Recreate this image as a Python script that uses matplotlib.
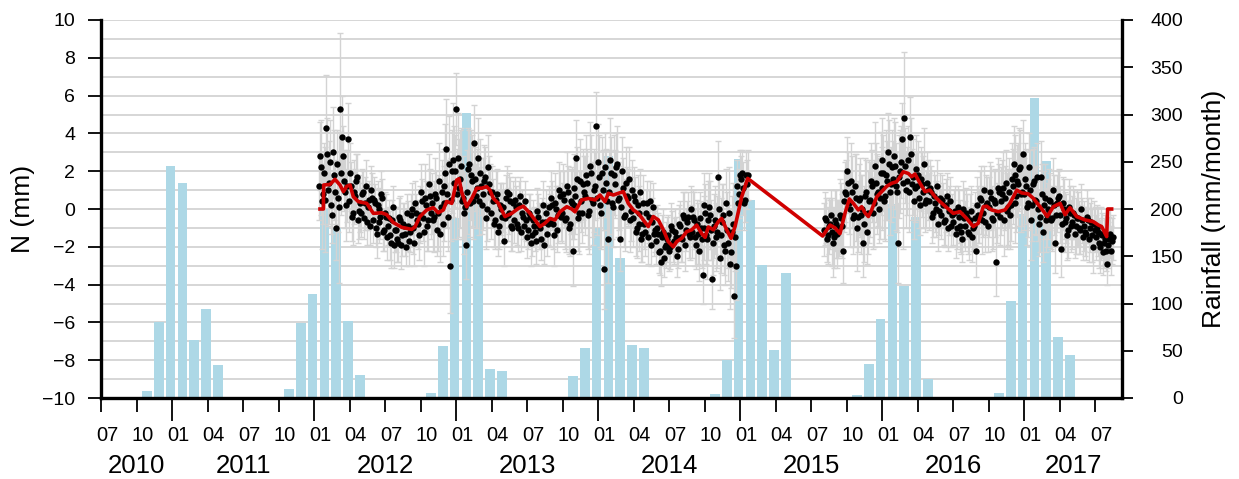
import numpy as np
import matplotlib
matplotlib.use('Agg')
import matplotlib.pyplot as plt
from matplotlib.ticker import MultipleLocator, FixedLocator

plt.rcParams['font.family'] = ['Liberation Sans', 'DejaVu Sans']

# %% data
# monthly rainfall (mm/month), first bar = Jul 2010
rain_start = 2010.5
rainfall = [
    0, 0, 1, 7, 80, 246,                                   # 2010 Jul-Dec
    228, 61, 94, 35, 1, 1, 0, 0, 1, 10, 79, 110,           # 2011
    200, 180, 81, 24, 1, 1, 0, 0, 1, 5, 55, 190,           # 2012
    302, 205, 31, 29, 1, 1, 0, 0, 1, 23, 53, 180,          # 2013
    256, 148, 56, 53, 1, 1, 0, 0, 1, 4, 40, 253,           # 2014
    210, 141, 51, 132, 1, 1, 0, 0, 1, 3, 36, 84,           # 2015
    205, 118, 192, 20, 1, 1, 0, 0, 1, 5, 103, 195,         # 2016
    317, 251, 65, 45, 0, 0, 0,                             # 2017 Jan-Jul
]

# GNSS north component, first campaign (2012-01 .. 2015-01)
seg1_range = (2012.045, 2015.055)
seg1_n = [
    2.8, 0.4, 1.9,                          # 2012-01
    4.3, 1.0, 2.5, -0.3, 1.8, -1.0,         # 02
    0.6, 5.3, 3.8, 1.5, 0.2, 3.7,           # 03
    1.9, -0.4, 0.9, 1.5, -0.6, 0.3,         # 04
    0.8, -0.5, 1.2, 0.1, -0.9, 0.6,         # 05
    0.5, -1.0, 0.2, -0.7, 0.8, -1.2,        # 06
    -0.2, -1.5, -0.5, -1.8, 0.1, -1.1,      # 07
    -1.6, -0.4, -1.9, -0.8, -1.3, -0.2,     # 08
    -1.7, -0.3, -1.0, 0.3, -0.6, -1.4,      # 09
    0.9, -0.5, 0.6, -0.9, 1.3, -0.2,        # 10
    -0.6, 0.8, -1.1, 1.5, 0.1, -0.8,        # 11
    1.2, 3.2, -0.4, -3.0, 2.0, 1.4,         # 12
    5.3, 2.7, 1.6, 0.4, -0.2, -1.9,         # 2013-01
    2.1, 0.3, 1.5, 3.5, 0.7, 2.7,           # 02
    1.9, 0.2, 1.5, -0.5, 2.2, 0.9,          # 03
    0.9, -0.8, 0.5, -1.2, 0.2, -0.4,        # 04
    -1.7, 0.6, -0.3, 0.8, -0.9, 0.3,        # 05
    0.5, -0.8, 0.2, -1.2, -0.4, 0.4,        # 06
    -1.5, -0.2, -1.8, -0.6, -1.2, -0.1,     # 07
    -0.9, -1.6, 0.2, -0.7, -1.3, 0.1,       # 08
    0.6, -0.8, 0.3, -1.1, 1.0, -0.4,        # 09
    0.8, -0.6, 1.2, -1.0, 0.4, -2.2,        # 10
    1.1, 2.7, -0.5, 1.5, -0.2, 0.9,         # 11
    1.8, -0.3, 2.3, 0.5, 1.0, 4.4,          # 12
    2.5, 0.2, 1.9, -3.2, 1.4, -1.6,         # 2014-01
    2.6, 0.3, 1.8, 2.2, 0.5, -1.6,          # 02
    2.0, -0.4, 1.4, 0.6, -0.6, 1.0,         # 03
    0.7, -1.2, 0.2, -0.8, -1.6, 0.3,        # 04
    -1.2, 0.3, -0.4, -1.9, 0.1, -1.1,       # 05
    -1.0, -2.3, -2.8, -1.2, -2.0, -1.6,     # 06
    -2.2, -0.9, -1.8, -1.2, -2.5, -0.8,     # 07
    -1.5, -0.3, -1.9, -0.7, -1.3, 0.0,      # 08
    -0.4, -1.5, -0.8, -2.2, -1.0, -3.5,     # 09
    0.2, -1.4, -0.6, -0.3, -3.7, -0.9,      # 10
    -1.5, 1.7, -2.6, -0.7, -1.9, 0.3,       # 11
    -1.8, -2.9, -1.2, -4.6, -3.0, 0.3,      # 12
    1.8, 1.9, 0.3, 1.8, 1.8,                # 2015-01
]
# in-between days of the same campaign
seg1_n_b = [
    1.2, 2.2, 0.8,                          # 2012-01
    0.5, 2.9, 1.4, 0.2, 3.0, 0.9,           # 02
    2.4, 0.1, 1.9, 2.8, 0.9, 1.2,           # 03
    0.4, 1.2, -0.2, 0.7, 1.7, -0.1,         # 04
    -0.2, 0.9, 0.3, -0.7, 0.5, 1.0,         # 05
    -0.6, 0.3, -1.3, 0.0, -0.4, 0.6,        # 06
    -1.1, -0.4, -0.9, -1.4, -0.6, -1.9,     # 07
    -1.1, -1.8, -0.6, -1.4, -0.9, -2.0,     # 08
    -0.9, -1.2, 0.0, -1.8, -0.2, -0.8,      # 09
    -0.3, 0.4, -1.2, 0.2, -0.6, 0.7,        # 10
    0.3, -0.4, 0.6, -0.2, -1.3, 0.9,        # 11
    0.3, 1.9, 0.8, 2.4, 0.5, 2.6,           # 12
    2.0, 0.8, 1.1, 2.3, 0.6, 0.1,           # 2013-01
    0.9, 2.4, 1.8, 0.4, 1.6, 1.1,           # 02
    0.4, 1.2, 0.8, 1.7, 0.0, 1.3,           # 03
    -0.2, 0.4, -0.6, 0.8, -0.9, 0.0,        # 04
    0.1, -0.5, 0.9, -0.2, 0.4, -1.0,        # 05
    -0.6, 0.1, -1.0, 0.7, -0.2, -0.9,       # 06
    -0.6, -1.1, -0.4, -1.4, -0.9, -1.7,     # 07
    -0.4, -1.0, -0.7, -1.9, -0.2, -0.8,     # 08
    -0.6, 0.2, -1.4, 0.0, -0.3, 0.7,        # 09
    -0.2, 0.5, -0.5, 0.9, -0.8, 0.3,        # 10
    0.2, 0.7, 1.6, -0.2, 0.4, 1.3,          # 11
    0.7, 1.4, -0.1, 1.9, 0.3, 1.2,          # 12
    0.6, 1.7, -0.2, 1.0, 2.2, 0.4,          # 2014-01
    0.9, 1.9, 0.1, 1.3, 2.4, 0.6,           # 02
    0.1, 1.1, -0.3, 0.7, 1.6, -0.1,         # 03
    -0.5, 0.4, -1.0, -0.2, 0.9, -1.3,       # 04
    -0.8, -0.2, -1.5, 0.4, -0.7, -1.3,      # 05
    -1.7, -1.3, -2.2, -1.5, -2.6, -1.9,     # 06
    -1.4, -2.0, -1.1, -1.7, -1.5, -2.1,     # 07
    -0.9, -1.6, -0.5, -1.1, -0.4, -1.5,     # 08
    -1.2, -0.6, -1.9, -1.3, -0.5, -1.6,     # 09
    -1.0, -0.2, -1.6, 0.1, -1.1, -1.8,      # 10
    -0.6, -1.2, 0.0, -1.4, -0.3, -2.2,      # 11
    -1.1, -0.2, -2.3, -0.8, -1.5, 1.2,      # 12
    0.8, 1.6, 1.1, 0.5, 1.3,                # 2015-01
]
seg1_err = [
    1.8, 2.5, 1.6,
    2.8, 1.9, 2.2, 1.5, 2.4, 1.7,
    1.8, 4.0, 2.2, 1.6, 1.9, 1.9,
    1.6, 1.3, 1.7, 1.4, 1.2, 1.5,
    1.3, 1.1, 1.4, 1.2, 1.0, 1.3,
    1.2, 1.0, 1.3, 1.1, 1.2, 1.0,
    1.1, 1.2, 1.0, 1.3, 1.1, 1.2,
    1.2, 1.0, 1.3, 1.1, 1.2, 1.0,
    1.3, 1.1, 1.4, 1.2, 1.0, 1.3,
    1.5, 1.2, 1.8, 1.3, 1.6, 1.4,
    1.6, 1.9, 1.4, 2.0, 1.5, 1.7,
    2.0, 2.6, 1.8, 2.5, 2.2, 3.0,
    1.9, 2.4, 2.6, 2.0, 2.2, 1.8,
    2.2, 1.8, 2.4, 2.0, 1.7, 2.1,
    1.8, 1.5, 1.9, 1.6, 1.7, 1.5,
    1.4, 1.2, 1.5, 1.3, 1.2, 1.4,
    1.3, 1.2, 1.4, 1.1, 1.3, 1.2,
    1.2, 1.1, 1.3, 1.0, 1.2, 1.1,
    1.1, 1.0, 1.2, 1.1, 1.0, 1.2,
    1.2, 1.1, 1.3, 1.0, 1.2, 1.1,
    1.4, 1.3, 1.6, 1.2, 1.5, 1.3,
    1.6, 1.5, 1.8, 1.4, 1.7, 1.9,
    1.8, 2.0, 1.7, 2.2, 1.6, 1.9,
    2.1, 1.8, 2.3, 2.0, 2.2, 1.8,
    2.0, 2.2, 1.9, 2.1, 1.8, 2.3,
    2.2, 1.9, 2.1, 1.8, 2.0, 1.7,
    1.8, 1.6, 1.9, 1.5, 1.7, 1.6,
    1.5, 1.3, 1.6, 1.4, 1.2, 1.5,
    1.3, 1.2, 1.4, 1.1, 1.3, 1.2,
    1.2, 1.1, 1.3, 1.2, 1.0, 1.2,
    1.1, 1.2, 1.0, 1.2, 1.1, 1.0,
    1.3, 1.2, 1.4, 1.1, 1.3, 1.2,
    1.4, 1.5, 1.3, 1.6, 1.4, 1.5,
    1.7, 1.5, 2.1, 1.8, 1.6, 1.7,
    1.8, 1.9, 1.7, 2.0, 1.6, 1.8,
    2.0, 2.4, 1.9, 2.2, 1.8, 1.4,
    1.3, 1.2, 1.4, 1.2, 1.3,
]

# second campaign (2015-08 .. 2017-08)
seg2_range = (2015.598, 2017.625)
seg2_n = [
    -0.5, -1.6, -0.9, -0.3, -1.8,           # 2015-08
    -0.6, -1.3, -1.0, -0.5, -2.2, 0.9,      # 09
    2.0, 0.3, 1.5, -0.5, 1.2, -1.0,         # 10
    0.5, -0.3, -1.8, 0.7, -1.2, 0.4,        # 11
    1.5, -0.2, 2.3, 0.8, 0.0, 1.9,          # 12
    2.6, 0.4, 1.8, 3.0, 0.9, 2.2,           # 2016-01
    2.8, 1.2, -1.8, 2.0, 3.7, 4.8,          # 02
    1.0, 2.6, 3.8, 1.3, 0.4, 2.1,           # 03
    1.8, 0.2, 1.3, 2.4, 0.5, 1.0,           # 04
    1.1, -0.4, 0.7, 0.0, -0.8, 0.6,         # 05
    0.5, -0.7, 0.2, -1.0, 0.4, -0.3,        # 06
    -0.2, -1.3, 0.1, -0.9, -1.6, -0.5,      # 07
    -0.2, -1.2, -0.6, -1.5, -0.9, -2.2,     # 08
    -0.3, 0.6, -0.6, 1.0, 0.2, -0.9,        # 09
    0.9, -0.5, 0.5, -2.8, 1.1, -0.4,        # 10
    0.8, -0.6, 1.4, 0.1, -0.3, 1.6,         # 11
    2.4, 0.3, 1.5, 2.1, 0.8, 2.9,           # 12
    1.6, 0.1, 2.2, -0.6, 1.3, 0.5,          # 2017-01
    1.7, -0.8, 1.7, -1.2, 0.6, -0.3,        # 02
    0.5, -0.6, 1.0, -1.8, 0.3, 0.7,         # 03
    -2.1, 0.3, -0.7, -1.4, 0.1, -0.9,       # 04
    -0.2, -1.3, -0.5, -1.0, 0.0, -1.5,      # 05
    -1.2, -0.4, -1.6, -0.7, -2.0, -1.1,     # 06
    -1.0, -1.8, -1.3, -2.3, -1.6, -2.9,     # 07
    -1.6, -2.2, -1.5,                       # 08
]
seg2_n_b = [
    -1.1, -0.6, -1.4, -0.8, -1.2,           # 2015-08
    -1.5, -0.8, -1.1, -0.3, -0.9, 0.4,      # 09
    0.8, 1.4, 0.0, 0.9, -0.3, 0.6,          # 10
    -0.4, 0.6, 0.0, -0.8, 0.9, -0.2,        # 11
    0.5, 1.2, 0.3, 1.4, 0.9, 0.6,           # 12
    1.1, 1.9, 0.7, 1.5, 2.4, 1.3,           # 2016-01
    1.6, 2.3, 0.9, 1.7, 2.5, 1.4,           # 02
    2.3, 1.5, 0.9, 2.9, 1.7, 1.1,           # 03
    1.2, 0.6, 1.6, 0.9, 0.3, 1.4,           # 04
    0.4, 0.9, -0.2, 0.3, 1.2, -0.1,         # 05
    -0.3, 0.2, -0.6, 0.7, -0.1, -0.9,       # 06
    -0.7, -0.1, -1.0, -0.4, -1.2, 0.0,      # 07
    -0.9, -0.4, -1.3, -0.1, -1.0, -0.5,     # 08
    0.2, -0.4, 0.5, -0.2, -0.7, 0.3,        # 09
    0.1, 0.6, -0.6, 0.3, -0.2, 0.9,         # 10
    0.4, 1.1, 0.6, -0.1, 0.9, 0.2,          # 11
    1.2, 1.8, 0.7, 1.3, 2.2, 0.9,           # 12
    0.8, 1.2, 0.3, 1.0, 0.2, 1.5,           # 2017-01
    0.4, 0.0, -0.4, 0.8, 0.2, -0.6,         # 02
    0.0, 0.4, -0.5, 0.2, -0.3, 0.6,         # 03
    -0.3, -0.8, 0.0, -0.5, -1.1, -0.2,      # 04
    -0.7, -0.3, -0.9, -0.5, -1.1, -0.6,     # 05
    -0.9, -1.3, -0.6, -1.0, -1.4, -0.8,     # 06
    -1.5, -1.2, -2.0, -1.4, -1.8, -2.2,     # 07
    -1.9, -1.3, -1.7,                       # 08
]
seg2_err = [
    1.4, 1.2, 1.5, 1.3, 1.8,
    1.6, 1.8, 1.5, 1.9, 1.7, 1.6,
    1.8, 1.6, 2.0, 1.9, 1.7, 2.3,
    1.9, 2.1, 1.8, 2.0, 1.7, 2.2,
    2.0, 1.9, 2.3, 2.1, 1.8, 2.2,
    2.2, 2.0, 2.4, 2.1, 2.3, 2.0,
    2.0, 2.3, 2.1, 2.2, 1.9, 3.5,
    2.0, 1.8, 2.1, 1.9, 2.0, 1.8,
    1.8, 1.6, 1.7, 1.9, 1.5, 1.6,
    1.5, 1.4, 1.3, 1.5, 1.4, 1.3,
    1.3, 1.2, 1.4, 1.2, 1.3, 1.1,
    1.2, 1.3, 1.1, 1.4, 1.2, 1.5,
    1.3, 1.2, 1.4, 1.3, 1.2, 1.4,
    1.5, 1.4, 1.8, 1.3, 1.6, 1.4,
    1.6, 1.7, 1.5, 1.8, 1.6, 1.5,
    1.8, 1.9, 1.7, 2.0, 1.8, 1.9,
    2.0, 2.1, 1.9, 2.2, 2.0, 1.8,
    1.9, 2.0, 1.8, 2.1, 1.9, 1.8,
    1.8, 1.7, 1.9, 1.6, 1.8, 1.7,
    1.6, 1.5, 1.7, 1.6, 1.5, 1.4,
    1.5, 1.4, 1.6, 1.3, 1.5, 1.4,
    1.4, 1.3, 1.5, 1.4, 1.3, 1.2,
    1.3, 1.4, 1.2, 1.3, 1.4, 1.2,
    1.2, 1.3, 1.4, 1.2, 1.3, 1.1,
    1.2, 1.3, 1.2,
]

# smoothed north component (red curve), decimal years
smooth_t = [
    2012.042, 2012.066, 2012.068, 2012.113, 2012.148, 2012.183, 2012.207, 2012.230,
    2012.254, 2012.277, 2012.312, 2012.371, 2012.418, 2012.477, 2012.512, 2012.559,
    2012.618, 2012.688, 2012.711, 2012.746, 2012.794, 2012.840, 2012.875, 2012.911,
    2012.934, 2012.970, 2013.005, 2013.021, 2013.040, 2013.075, 2013.111, 2013.146,
    2013.181, 2013.216, 2013.239, 2013.263, 2013.298, 2013.345, 2013.392, 2013.439,
    2013.474, 2013.521, 2013.556, 2013.592, 2013.627, 2013.662, 2013.697, 2013.732,
    2013.780, 2013.815, 2013.838, 2013.885, 2013.932, 2013.979, 2014.014, 2014.049,
    2014.073, 2014.108, 2014.143, 2014.178, 2014.213, 2014.249, 2014.284, 2014.319,
    2014.354, 2014.389, 2014.425, 2014.460, 2014.495, 2014.530, 2014.554, 2014.589,
    2014.624, 2014.660, 2014.695, 2014.730, 2014.754, 2014.777, 2014.812, 2014.847,
    2014.871, 2014.906, 2014.937, 2014.965, 2015.012, 2015.054,
    2015.582, 2015.634, 2015.669, 2015.704, 2015.739, 2015.770, 2015.798, 2015.833,
    2015.857, 2015.880, 2015.904, 2015.927, 2015.963, 2015.998, 2016.033, 2016.068,
    2016.104, 2016.127, 2016.150, 2016.185, 2016.209, 2016.232, 2016.268, 2016.303,
    2016.338, 2016.373, 2016.408, 2016.456, 2016.502, 2016.549, 2016.596, 2016.643,
    2016.678, 2016.713, 2016.737, 2016.772, 2016.819, 2016.866, 2016.901, 2016.949,
    2016.984, 2017.030, 2017.066, 2017.113, 2017.164, 2017.206, 2017.254, 2017.289,
    2017.324, 2017.371, 2017.430, 2017.488, 2017.524, 2017.547, 2017.582, 2017.589,
    2017.617,
]
smooth_n = [
    0.0, 0.0, 1.27, 1.3, 1.57, 1.27, 0.92, 1.2,
    1.27, 0.65, 0.39, 0.3, -0.23, -0.2, -0.3, -0.72,
    -0.97, -1.08, -0.95, -0.4, -0.05, 0.07, -0.2, -0.05,
    0.4, 0.3, 1.53, 1.6, 0.9, 0.12, 0.56, 1.1,
    1.1, 1.18, 1.0, 0.56, 0.3, -0.4, -0.23, 0.03,
    0.15, -0.23, -0.58, -0.93, -0.75, -0.5, -0.58, -0.15,
    0.12, 0.0, -0.15, 0.48, 0.56, 0.48, 0.74, 0.39,
    0.83, 0.74, 0.83, 0.92, 0.3, -0.05, -0.23, -0.58,
    -0.93, -0.4, -0.58, -1.1, -1.73, -2.0, -1.73, -1.55,
    -1.2, -1.1, -0.85, -1.3, -1.5, -0.95, -1.1, -0.67,
    -0.5, -1.1, -1.55, -0.93, 0.65, 1.62,
    -1.43, -0.85, -1.0, -1.3, -0.23, 0.53, 0.3, -0.05,
    0.12, -0.2, -0.4, -0.05, 0.65, 0.92, 1.2, 1.36,
    1.45, 1.71, 1.97, 1.88, 1.71, 1.85, 1.36, 0.92,
    1.0, 0.65, 0.39, 0.07, -0.23, -0.14, -0.5, -0.93,
    -0.75, 0.12, 0.15, -0.05, -0.14, -0.05, 0.3, 1.0,
    0.85, 0.8, 0.56, 0.12, -0.4, 0.12, 0.3, -0.3,
    0.07, -0.4, -0.58, -0.67, -0.85, -0.93, -1.46, 0.0,
    0.0,
]

month_names = {0.0: '01', 0.25: '04', 0.5: '07', 0.75: '10'}
years = list(range(2010, 2018))

# %% figure
W, H = 1239, 479
fig = plt.figure(figsize=(W / 100, H / 100), dpi=100)
ax_r = fig.add_axes([101 / W, 1 - 398 / H, 1021 / W, 378 / H])
ax = ax_r.twinx()

x_min, x_max = 2010.5, 2017.69

# rainfall bars (drawn on the lower axes)
month_end = rain_start + (np.arange(len(rainfall)) + 1) / 12
ax_r.bar(month_end - 0.01, rainfall, width=0.068, color='#add8e6', linewidth=0)
ax_r.set_ylim(0, 400)
ax_r.set_xlim(x_min, x_max)
ax_r.yaxis.tick_right()
ax_r.yaxis.set_label_position('right')
ax_r.yaxis.set_major_locator(MultipleLocator(50))
ax_r.yaxis.set_minor_locator(MultipleLocator(20))
ax_r.yaxis.remove_overlapping_locs = False
ax_r.grid(which='minor', axis='y', color='#cfcfcf', lw=1.2)
ax_r.set_axisbelow(True)
ax_r.tick_params(axis='y', which='major', direction='out', length=8, width=1.3,
                 labelsize=14, pad=36)
ax_r.tick_params(axis='y', which='minor', length=0)
for lbl in ax_r.get_yticklabels():
    lbl.set_horizontalalignment('right')
ax_r.set_ylabel('Rainfall (mm/month)', fontsize=19)
ax_r.yaxis.set_label_coords(1.0784, 0.5)

# x ticks: quarters, January ticks longer
quarters = np.arange(2010.5, 2017.51, 0.25)
jan = [q for q in quarters if q % 1 == 0]
other = [q for q in quarters if q % 1 != 0]
ax_r.xaxis.set_major_locator(FixedLocator(jan))
ax_r.xaxis.set_minor_locator(FixedLocator(other))
ax_r.tick_params(axis='x', which='major', length=16.5, width=1.3, labelbottom=False)
ax_r.tick_params(axis='x', which='minor', length=10, width=1.3)
tr = ax_r.get_xaxis_transform()
for q in quarters:
    ax_r.text(q + 1 / 24, -0.1138, month_names[round(q % 1, 2)], transform=tr,
              ha='center', va='baseline', fontsize=14.5)
for y in years:
    xc = (max(y, x_min) + min(y + 1, x_max)) / 2
    ax_r.text(xc, -0.198, str(y), transform=tr, ha='center', va='baseline', fontsize=18.5)

for s in ['top', 'left']:
    ax_r.spines[s].set_visible(False)
ax_r.spines['right'].set_linewidth(2.4)
ax_r.spines['bottom'].set_linewidth(2.4)

# GNSS north displacement (upper axes)
def seg_times(rng, n, shift):
    step = (rng[1] - rng[0]) / (n - 1)
    return np.linspace(rng[0], rng[1], n) + shift * step

series = [
    (seg_times(seg1_range, len(seg1_n), 0.0), seg1_n, seg1_err),
    (seg_times(seg1_range, len(seg1_n_b), -0.5), seg1_n_b, seg1_err),
    (seg_times(seg2_range, len(seg2_n), 0.0), seg2_n, seg2_err),
    (seg_times(seg2_range, len(seg2_n_b), -0.5), seg2_n_b, seg2_err),
]
for t, n, e in series:
    ax.errorbar(t, n, yerr=e, fmt='none', ecolor='#d3d3d3', elinewidth=1,
                capsize=2.5, capthick=1, zorder=2)
for t, n, e in series:
    ax.plot(t, n, 'o', color='black', ms=4.6, mew=0, zorder=3)
ax.plot(smooth_t, smooth_n, color='#d00000', lw=2.6, zorder=4)

ax.set_ylim(-10, 10)
ax.set_xlim(x_min, x_max)
ax.yaxis.tick_left()
ax.yaxis.set_label_position('left')
ax.set_yticks(np.arange(-10, 11, 2))
ax.tick_params(axis='y', direction='out', length=9.5, width=1.3, labelsize=14, pad=9)
ax.set_ylabel('N (mm)', fontsize=19)
ax.yaxis.set_label_coords(-0.0651, 0.5)
for s in ['top', 'right', 'bottom']:
    ax.spines[s].set_visible(False)
ax.spines['left'].set_linewidth(2.4)

fig.savefig('out.png', dpi=100)
